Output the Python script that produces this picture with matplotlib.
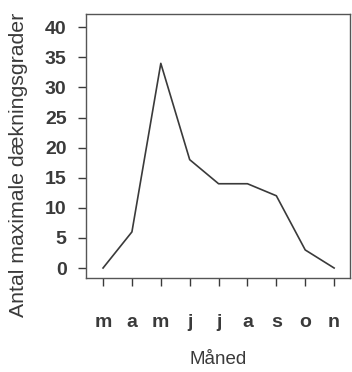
import matplotlib.pyplot as plt

# månedsdata
months = ['m', 'a', 'm', 'j', 'j', 'a', 's', 'o', 'n']
counts = [0, 6, 34, 18, 14, 14, 12, 3, 0]
yticks = [0, 5, 10, 15, 20, 25, 30, 35, 40]

plt.rcParams['font.family'] = ['Liberation Sans', 'DejaVu Sans']
ink = '#3a3a3a'

fig = plt.figure(figsize=(3.52, 3.72), dpi=100)
ax = fig.add_axes([86/352, 1 - 278/372, 264/352, 264/372])

x = list(range(len(months)))
ax.plot(x, counts, color=ink, lw=1.2)

ax.set_xlim(-0.59, 8.55)
ax.set_ylim(-1.66, 42.2)
ax.set_xticks(x)
ax.set_xticklabels(months)
ax.set_yticks(yticks)

for s in ax.spines.values():
    s.set_color('#555555')
    s.set_linewidth(1.0)

ax.tick_params(axis='both', colors=ink, labelsize=14, length=6, width=1.0)
ax.tick_params(axis='x', pad=20)
ax.tick_params(axis='y', pad=8)
for lab in ax.get_xticklabels() + ax.get_yticklabels():
    lab.set_fontweight('bold')

ax.set_xlabel('Måned', fontsize=13.5, color=ink, labelpad=14)
ax.set_ylabel('Antal maximale dækningsgrader', fontsize=15.3, color=ink)
ax.yaxis.set_label_coords(-0.22, 0.43)

fig.savefig('out.png', dpi=100)
